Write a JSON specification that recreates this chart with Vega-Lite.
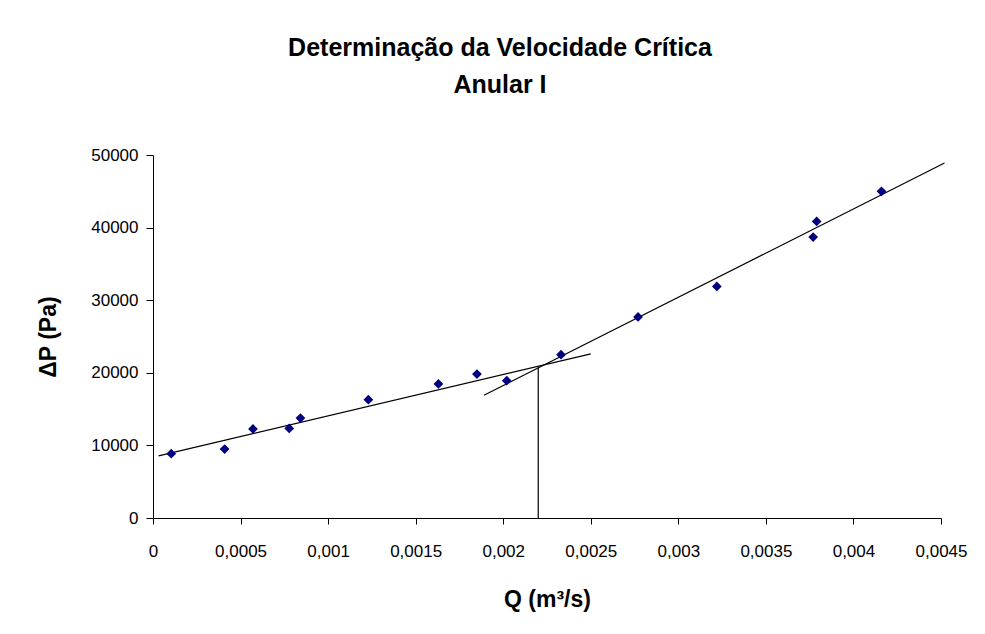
{
  "$schema": "https://vega.github.io/schema/vega-lite/v6.json",
  "autosize": {"type": "none"},
  "padding": {"left": 153, "top": 155, "right": 44, "bottom": 116},
  "width": 788,
  "height": 363,
  "background": "white",
  "config": {
    "view": {"stroke": null},
    "font": "Liberation Sans",
    "axis": {"domainColor": "black", "tickColor": "black", "labelColor": "black", "titleColor": "black", "grid": false, "domainWidth": 1, "tickWidth": 1}
  },
  "title": {
    "text": ["Determinação da Velocidade Crítica", "Anular I"],
    "font": "Liberation Sans",
    "fontSize": 25,
    "fontWeight": "bold",
    "color": "black",
    "anchor": "middle",
    "baseline": "bottom",
    "lineHeight": 37,
    "offset": 58,
    "dy": 35,
    "dx": -47
  },
  "datasets": {
    "pontos": [
      {"q": 0.000104, "dp": 8860},
      {"q": 0.000409, "dp": 9500},
      {"q": 0.000571, "dp": 12260},
      {"q": 0.000778, "dp": 12340},
      {"q": 0.000842, "dp": 13770},
      {"q": 0.00123, "dp": 16300},
      {"q": 0.00163, "dp": 18460},
      {"q": 0.00185, "dp": 19830},
      {"q": 0.00202, "dp": 18910},
      {"q": 0.00233, "dp": 22490},
      {"q": 0.00277, "dp": 27690},
      {"q": 0.00322, "dp": 31900},
      {"q": 0.00377, "dp": 38700},
      {"q": 0.00379, "dp": 40850},
      {"q": 0.00416, "dp": 44990}
    ],
    "retas": [
      {"reta": "laminar", "q": 0.000032, "dp": 8560},
      {"reta": "laminar", "q": 0.0025, "dp": 22600},
      {"reta": "turbulento", "q": 0.00189, "dp": 16900},
      {"reta": "turbulento", "q": 0.00452, "dp": 48900}
    ],
    "critica": [
      {"q": 0.0022, "dp0": 0, "dp": 20750}
    ]
  },
  "layer": [
    {
      "data": {"name": "retas"},
      "mark": {"type": "line", "color": "black", "strokeWidth": 1.2},
      "encoding": {
        "x": {"field": "q", "type": "quantitative", "scale": {"domain": [0, 0.0045], "nice": false},
          "axis": {"values": [0, 0.0005, 0.001, 0.0015, 0.002, 0.0025, 0.003, 0.0035, 0.004, 0.0045],
            "labelExpr": "replace(format(datum.value, '~g'), '.', ',')",
            "title": "Q (m³/s)", "labelFontSize": 17, "titleFontSize": 23, "titleFontWeight": "bold",
            "tickSize": 6, "labelPadding": 19, "titlePadding": 29, "labelFlush": false}},
        "y": {"field": "dp", "type": "quantitative", "scale": {"domain": [0, 50000], "nice": false},
          "axis": {"values": [0, 10000, 20000, 30000, 40000, 50000], "format": "d",
            "title": "ΔP (Pa)", "labelFontSize": 17, "titleFontSize": 23, "titleFontWeight": "bold",
            "tickSize": 7, "labelPadding": 8, "titlePadding": 30}},
        "detail": {"field": "reta"}
      }
    },
    {
      "data": {"name": "critica"},
      "mark": {"type": "rule", "color": "black", "strokeWidth": 1.2},
      "encoding": {
        "x": {"field": "q", "type": "quantitative"},
        "y": {"field": "dp0", "type": "quantitative"},
        "y2": {"field": "dp"}
      }
    },
    {
      "data": {"name": "pontos"},
      "mark": {"type": "point", "shape": "diamond", "filled": true, "color": "#000080", "size": 95, "opacity": 1},
      "encoding": {
        "x": {"field": "q", "type": "quantitative"},
        "y": {"field": "dp", "type": "quantitative"}
      }
    }
  ]
}
